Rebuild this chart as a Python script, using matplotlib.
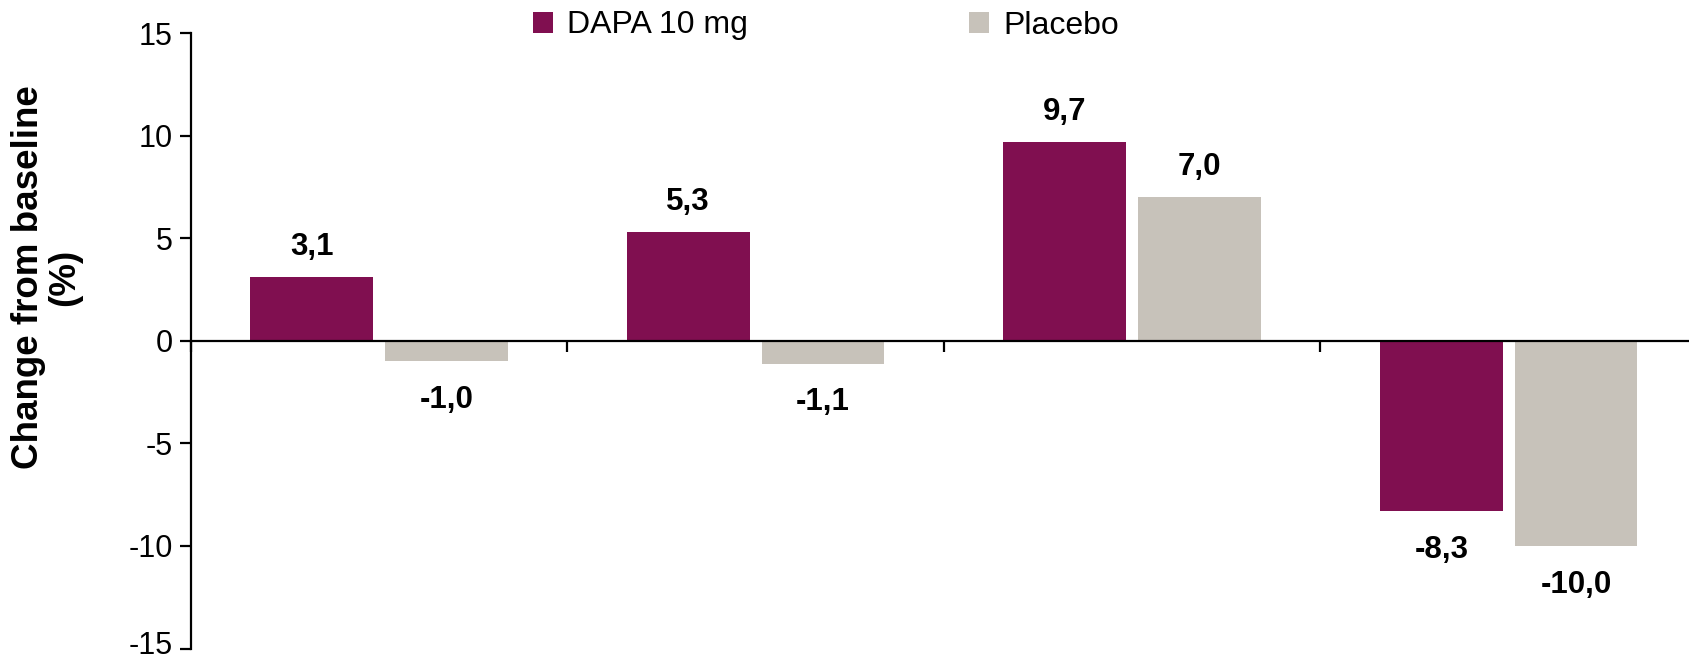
import matplotlib
matplotlib.use("Agg")
import matplotlib.pyplot as plt
import matplotlib.transforms as mtransforms
import numpy as np

plt.rcParams['font.family'] = ['Liberation Sans', 'DejaVu Sans']

series_names = ["DAPA 10 mg", "Placebo"]
dapa_values = [3.1, 5.3, 9.7, -8.3]
placebo_values = [-1.0, -1.1, 7.0, -10.0]
value_labels_dapa = ["3,1", "5,3", "9,7", "-8,3"]
value_labels_placebo = ["-1,0", "-1,1", "7,0", "-10,0"]
y_ticks = [-15, -10, -5, 0, 5, 10, 15]
y_label = "Change from baseline\n(%)"

dapa_color = "#800F50"
placebo_color = "#C7C2BA"

fig = plt.figure(figsize=(16.89, 6.60), dpi=100)
ax = fig.add_axes([0.1129, 0.0174, 0.8918, 0.9320])

n = len(dapa_values)
centers = np.arange(n) + 0.5
bar_w = 0.326
offset = 0.179

b1 = ax.bar(centers - offset, dapa_values, bar_w, color=dapa_color, label=series_names[0], zorder=2)
b2 = ax.bar(centers + offset, placebo_values, bar_w, color=placebo_color, label=series_names[1], zorder=2)

for bars, labels in ((b1, value_labels_dapa), (b2, value_labels_placebo)):
    for rect, txt in zip(bars, labels):
        h = rect.get_height()
        x = rect.get_x() + rect.get_width() / 2
        dy = 22 if h >= 0 else -28
        ax.annotate(txt, (x, h), xytext=(0, dy), textcoords="offset points",
                    ha="center", va="center", fontsize=22.5, fontweight="bold")

ax.set_xlim(0, n)
ax.set_ylim(-15, 15)
ax.set_yticks(y_ticks)
ax.set_yticklabels([str(t) for t in y_ticks], fontsize=22)
ax.set_xticks(np.arange(n + 1))
ax.set_xticklabels([])

for s in ("top", "right"):
    ax.spines[s].set_visible(False)
ax.spines["bottom"].set_position(("data", 0))
for s in ("left", "bottom"):
    ax.spines[s].set_linewidth(1.6)
    ax.spines[s].set_zorder(3)
ax.tick_params(axis="y", length=8, width=1.6, pad=5)
ax.tick_params(axis="x", length=8, width=1.6, direction="out")

# keep the lowest tick label inside the canvas
lowest = ax.yaxis.get_major_ticks()[0].label1
lowest.set_transform(lowest.get_transform() +
                     mtransforms.ScaledTranslation(0, 0.065, fig.dpi_scale_trans))

ax.set_ylabel(y_label, fontsize=26.5, fontweight="bold", linespacing=1.05)
ax.yaxis.set_label_coords(-0.072, 0.603)

fig.legend(loc="center left", bbox_to_anchor=(533 / 1689, 1 - 25.5 / 660), ncol=2,
           frameon=False, fontsize=23, borderpad=0, borderaxespad=0,
           handlelength=0.62, handleheight=0.62, handletextpad=0.45,
           columnspacing=6.93)

fig.savefig("out.png", dpi=100)
